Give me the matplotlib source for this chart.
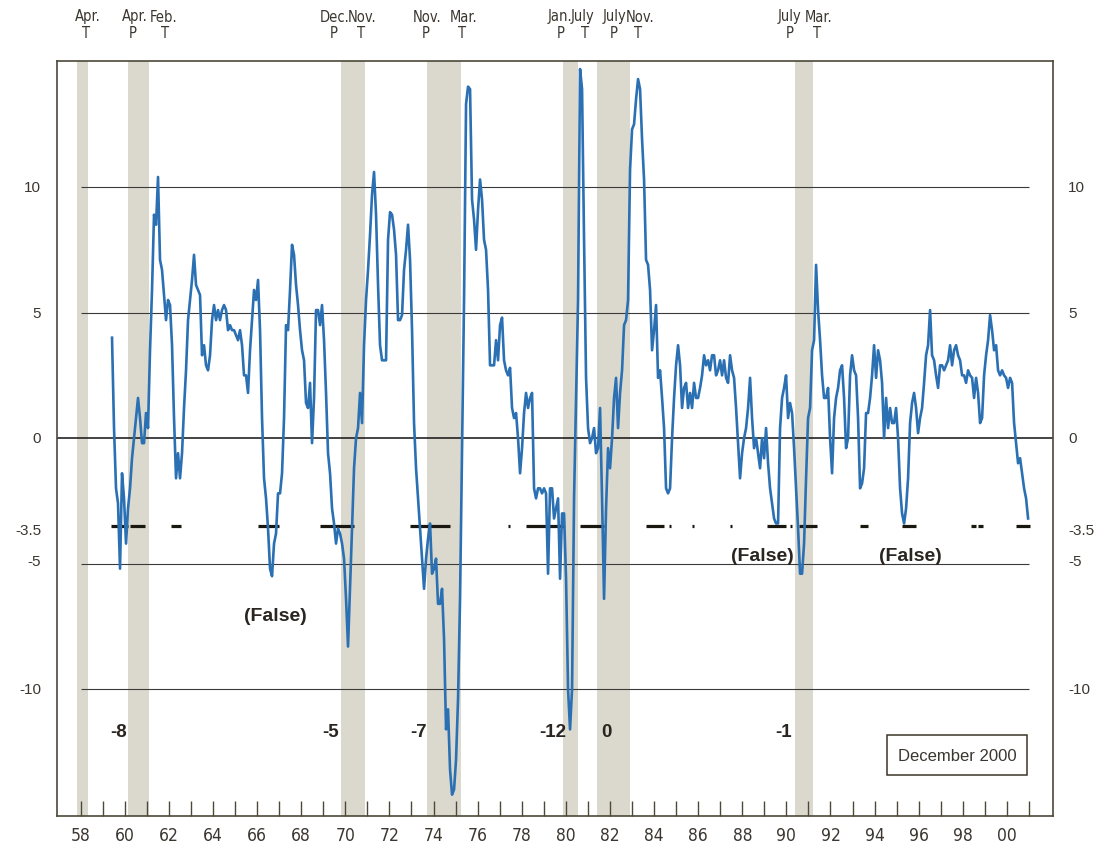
import numpy as np
import matplotlib
matplotlib.use("Agg")
import matplotlib.pyplot as plt
from matplotlib.patches import Rectangle
import matplotlib.transforms as mtransforms

# ---------------- data ----------------
series_start, series_end = 1959.42, 2000.96
values = [
    4.0, 0.4, -2.0, -2.6, -5.2, -1.4, -2.4, -4.2, -2.8, -2.0, -0.8, 0.0, 0.8, 1.6, 0.8, -0.2, -0.2, 1.0, 0.4,
    3.5, 5.9, 8.9, 8.5, 10.4, 7.1, 6.7, 5.7, 4.7, 5.5, 5.3, 3.7, 0.8, -1.6, -0.6, -1.6, -0.6, 1.2, 2.7, 4.7,
    5.5, 6.3, 7.3, 6.1, 5.9, 5.7, 3.3, 3.7, 2.9, 2.7, 3.3, 4.7, 5.3, 4.7, 5.1, 4.7, 5.1, 5.3, 5.1, 4.3, 4.5,
    4.3, 4.3, 4.1, 3.9, 4.3, 3.7, 2.5, 2.5, 1.8, 3.5, 4.7, 5.9, 5.5, 6.3, 4.3, 0.8, -1.6, -2.4, -3.6, -5.2,
    -5.5, -4.2, -3.8, -2.2, -2.2, -1.4, 0.8, 4.5, 4.3, 5.9, 7.7, 7.3, 6.1, 5.3, 4.3, 3.5, 3.1, 1.4, 1.2, 2.2,
    -0.2, 1.6, 5.1, 5.1, 4.5, 5.3, 3.9, 1.8, -0.6, -1.4, -2.8, -3.4, -4.2, -3.6, -3.8, -4.2, -4.8, -6.4, -8.3,
    -6.0, -3.6, -1.2, 0.0, 0.4, 1.8, 0.6, 3.7, 5.5, 6.7, 8.1, 9.7, 10.6, 8.9, 6.1, 3.7, 3.1, 3.1, 3.1, 7.9,
    9.0, 8.9, 8.3, 7.3, 4.7, 4.7, 4.9, 6.7, 7.5, 8.5, 7.1, 4.3, 0.6, -1.2, -2.4, -3.6, -4.8, -6.0, -4.8, -4.0,
    -3.4, -5.4, -5.2, -4.8, -6.6, -6.6, -6.0, -8.0, -11.6, -10.8, -13.2, -14.2, -14.0, -12.8, -10.4, -6.4,
    -0.4, 5.5, 13.3, 14.0, 13.9, 9.5, 8.7, 7.5, 9.1, 10.3, 9.5, 7.9, 7.5, 5.9, 2.9, 2.9, 2.9, 3.9, 3.1, 4.5,
    4.8, 3.1, 2.7, 2.5, 2.8, 1.2, 0.8, 1.0, 0.0, -1.4, -0.4, 1.0, 1.8, 1.2, 1.6, 1.8, -2.0, -2.4, -2.0, -2.0,
    -2.2, -2.0, -2.2, -5.4, -2.0, -2.0, -3.2, -2.8, -2.4, -5.6, -3.0, -3.0, -5.6, -10.0, -11.6, -10.0, -2.4,
    1.6, 5.5, 14.7, 13.9, 7.9, 2.4, 0.4, -0.2, 0.0, 0.4, -0.6, -0.4, 1.2, -2.4, -6.4, -2.8, -0.4, -1.2, 0.0,
    1.6, 2.4, 0.4, 1.8, 2.7, 4.5, 4.7, 5.5, 10.7, 12.3, 12.5, 13.5, 14.3, 13.9, 11.9, 10.3, 7.1, 6.9, 5.9,
    3.5, 4.3, 5.3, 2.4, 2.7, 1.6, 0.4, -2.0, -2.2, -2.0, 0.0, 1.6, 2.9, 3.7, 2.9, 1.2, 2.0, 2.2, 1.2, 1.8,
    1.2, 2.2, 1.6, 1.6, 2.0, 2.5, 3.3, 2.9, 3.1, 2.7, 3.3, 3.3, 2.5, 2.7, 3.1, 2.5, 3.1, 2.4, 2.2, 3.3, 2.7,
    2.4, 1.2, -0.2, -1.6, -0.6, 0.0, 0.4, 1.2, 2.4, 0.8, -0.4, 0.0, -0.6, -1.2, 0.0, -0.8, 0.4, -1.0, -2.0,
    -2.6, -3.2, -3.4, -3.4, 0.4, 1.6, 2.0, 2.5, 0.8, 1.4, 1.0, -0.4, -2.0, -3.6, -5.4, -5.4, -4.2, -1.6, 0.8,
    1.2, 3.5, 3.9, 6.9, 5.1, 3.9, 2.5, 1.6, 1.6, 2.0, 0.0, -1.4, 0.8, 1.6, 2.0, 2.7, 2.9, 1.6, -0.4, 0.0,
    2.5, 3.3, 2.7, 2.5, 0.8, -2.0, -1.8, -1.2, 1.0, 1.0, 1.6, 2.5, 3.7, 2.4, 3.5, 3.1, 2.2, 0.0, 1.6, 0.4,
    1.2, 0.6, 0.6, 1.2, 0.0, -2.0, -3.0, -3.4, -2.8, -1.6, 0.6, 1.4, 1.8, 1.2, 0.2, 0.8, 1.2, 2.2, 3.3, 3.7,
    5.1, 3.3, 3.1, 2.5, 2.0, 2.9, 2.9, 2.7, 2.9, 3.1, 3.7, 2.9, 3.5, 3.7, 3.3, 3.1, 2.5, 2.5, 2.2, 2.7, 2.5,
    2.4, 1.6, 2.4, 1.8, 0.6, 0.8, 2.5, 3.3, 3.9, 4.9, 4.3, 3.5, 3.7, 2.7, 2.5, 2.7, 2.5, 2.4, 2.0, 2.4, 2.2,
    0.6, -0.2, -1.0, -0.8, -1.4, -2.0, -2.4, -3.2,
]

# recession bands (start, end) in decimal years
band_starts = [1957.82, 1960.16, 1969.81, 1973.71, 1979.88, 1981.42, 1990.40]
band_ends   = [1958.32, 1961.11, 1970.90, 1975.25, 1980.56, 1982.92, 1991.22]

# signal segments on the -3.5 threshold line
threshold = -3.5
sig_starts = [1959.37, 1960.24, 1962.10, 1966.04, 1968.85, 1972.93, 1977.38, 1978.20, 1980.64,
              1983.64, 1984.68, 1985.72, 1987.45, 1989.13, 1990.17, 1990.58, 1993.34, 1995.25,
              1998.38, 1998.69, 2000.42]
sig_ends   = [1960.15, 1960.92, 1962.55, 1966.99, 1970.40, 1974.75, 1977.47, 1979.92, 1981.73,
              1984.45, 1984.77, 1985.81, 1987.54, 1989.99, 1990.26, 1991.39, 1993.71, 1995.88,
              1998.60, 1998.92, 2001.05]

# top peak/trough labels
turn_x      = [1958.23, 1960.37, 1961.82, 1969.49, 1970.71, 1973.65, 1975.28,
               1979.77, 1980.87, 1982.19, 1983.29, 1990.17, 1991.38]
turn_months = ["Apr.", "Apr.", "Feb.", "Dec.", "Nov.", "Nov.", "Mar.",
               "Jan.", "July", "July", "Nov.", "July", "Mar."]
turn_month_x = [1958.33, 1960.44, 1961.75, 1969.53, 1970.76, 1973.71, 1975.34,
                1979.72, 1980.74, 1982.19, 1983.35, 1990.12, 1991.48]
turn_types  = ["T", "P", "T", "P", "T", "P", "T", "P", "T", "P", "T", "P", "T"]

# lead numbers
lead_x     = [1959.70, 1969.35, 1973.30, 1979.42, 1981.82, 1989.85]
lead_text  = ["-8", "-5", "-7", "-12", "0", "-1"]
lead_y     = -11.7

false_x = [1966.81, 1988.89, 1995.61]
false_y = [-7.05, -4.66, -4.66]

ytick_labels = ["10", "5", "0", "-3.5", "-5", "-10"]
ytick_pos    = [10, 5, 0, -3.65, -4.9, -10]
grid_vals    = [10, 5, -5, -10]

year_ticks  = list(range(1958, 2002))
year_labels = ["58", "60", "62", "64", "66", "68", "70", "72", "74", "76", "78",
               "80", "82", "84", "86", "88", "90", "92", "94", "96", "98", "00"]
year_label_pos = list(range(1958, 2001, 2))

box_text = "December 2000"

# ---------------- style ----------------
TXT = "#3b3630"
SPINE = "#4d4838"
BAND = "#dbd9ce"
BLUE = "#2a70b3"
COND = dict(family="DejaVu Sans", fontstretch="condensed")
SANS = ["Liberation Sans", "DejaVu Sans"]

fig = plt.figure(figsize=(11.02, 8.54), dpi=100)
ax = fig.add_axes([57 / 1102, 37 / 854, (1053 - 57) / 1102, (817 - 62) / 854])
ax.set_xlim(1956.925, 2002.09)
ax.set_ylim(-15.05, 15.02)

for s, e in zip(band_starts, band_ends):
    ax.axvspan(s, e, color=BAND, lw=0, zorder=0)

for g in grid_vals:
    ax.hlines(g, 1958.0, 2001.0, color="#3a3a3a", lw=0.8, zorder=1)
ax.axhline(0, color="#111111", lw=1.1, zorder=1)

for s, e in zip(sig_starts, sig_ends):
    ax.hlines(threshold, s, e, color="#1a1610", lw=2.3, zorder=2, capstyle="butt")

dates = np.linspace(series_start, series_end, len(values))
ax.plot(dates, values, color=BLUE, lw=1.9, zorder=3, solid_joinstyle="round")

for sp in ax.spines.values():
    sp.set_color(SPINE)
    sp.set_linewidth(1.2)

ax.set_yticks([])
ax.set_xticks(year_ticks)
ax.set_xticklabels([])
ax.tick_params(axis="x", direction="in", length=11, width=1.0, color=SPINE)

# x labels
tx = mtransforms.blended_transform_factory(ax.transData, ax.transAxes)
for pos, lab in zip(year_label_pos, year_labels):
    ax.text(pos, -0.025, lab, transform=tx, ha="center", va="center",
            fontsize=12.5, color=TXT, clip_on=False, **COND)

# y labels both sides
ty = mtransforms.blended_transform_factory(ax.transAxes, ax.transData)
for pos, lab in zip(ytick_pos, ytick_labels):
    ax.text(-16 / 996, pos, lab, transform=ty, ha="right", va="center",
            fontsize=11, family=SANS, color=TXT, clip_on=False)
    ax.text(1 + 15 / 996, pos, lab, transform=ty, ha="left", va="center",
            fontsize=11, family=SANS, color=TXT, clip_on=False)

# top turning point labels
for xm, m, x, t in zip(turn_month_x, turn_months, turn_x, turn_types):
    ax.text(xm, 1 + 45 / 755, m, transform=tx, ha="center", va="center",
            fontsize=10.5, color=TXT, clip_on=False, **COND)
    ax.text(x, 1 + 28 / 755, t, transform=tx, ha="center", va="center",
            fontsize=10.5, color=TXT, clip_on=False, **COND)

for x, t in zip(lead_x, lead_text):
    ax.text(x, lead_y, t, ha="center", va="center", fontsize=13.5,
            fontweight="bold", family=SANS, color="#2a2520")

for x, y in zip(false_x, false_y):
    ax.text(x, y, "(False)", ha="center", va="center", fontsize=14,
            fontweight="bold", family=SANS, color="#2a2520")

# December 2000 box
ax.add_patch(Rectangle((1994.57, -13.43), 2000.92 - 1994.57, 1.6,
                       fill=False, edgecolor="#3a3528", lw=1.1, zorder=4))
ax.text((1994.57 + 2000.92) / 2, -12.63, box_text, ha="center", va="center",
        fontsize=12, family=SANS, color=TXT, zorder=5)

fig.savefig("out.png", dpi=100)
